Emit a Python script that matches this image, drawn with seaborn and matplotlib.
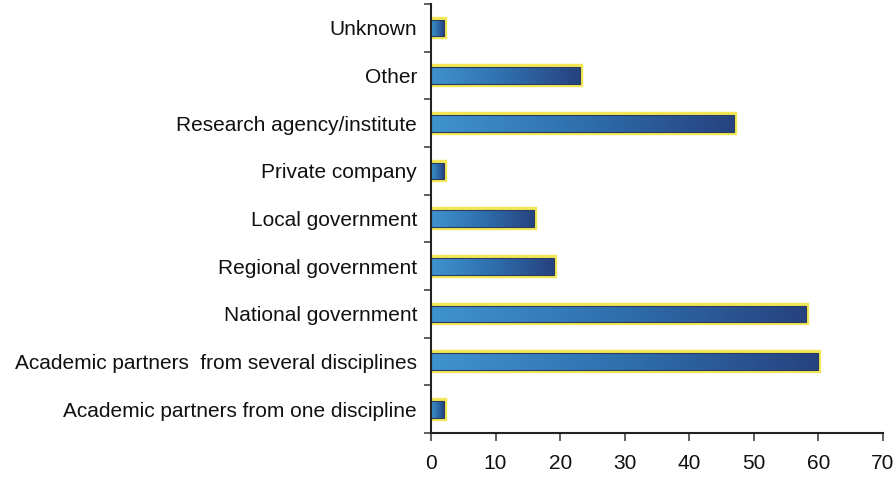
import matplotlib
matplotlib.use("Agg")
import matplotlib.pyplot as plt
import matplotlib.colors as mcolors
from matplotlib.patches import Rectangle
import numpy as np
import pandas as pd
import seaborn as sns

categories = [
    "Unknown",
    "Other",
    "Research agency/institute",
    "Private company",
    "Local government",
    "Regional government",
    "National government",
    "Academic partners  from several disciplines",
    "Academic partners from one discipline",
]
counts = [2, 23, 47, 2, 16, 19, 58, 60, 2]
x_ticks = [0, 10, 20, 30, 40, 50, 60, 70]

df = pd.DataFrame({"category": categories, "count": counts})

sns.set_theme(style="white")
plt.rcParams["font.family"] = ["Liberation Sans", "DejaVu Sans"]

fig = plt.figure(figsize=(8.96, 4.79), dpi=100)
ax = fig.add_axes([0.481, 0.096, 0.5045, 0.8956])

sns.barplot(data=df, y="category", x="count", orient="h", ax=ax,
            width=0.35, facecolor="none", edgecolor="none", linewidth=0,
            zorder=2)

# left-to-right blue gradient inside every bar, framed in yellow
grad_cmap = mcolors.LinearSegmentedColormap.from_list(
    "bar_grad", ["#3f93cf", "#2f6fae", "#26427f"])
grad = np.linspace(0, 1, 256).reshape(1, -1)
for patch in list(ax.patches):
    x0, y0 = patch.get_x(), patch.get_y()
    w, h = patch.get_width(), patch.get_height()
    ax.add_patch(Rectangle((x0, y0), w, h, facecolor="none",
                           edgecolor="#f3e758", linewidth=4.6,
                           joinstyle="miter", zorder=2.5))
    im = ax.imshow(grad, cmap=grad_cmap, aspect="auto",
                   extent=(x0, x0 + w, y0 + h, y0), zorder=3,
                   interpolation="bilinear")
    im.set_clip_path(patch)
    ax.add_patch(Rectangle((x0, y0), w, h, fill=False,
                           edgecolor="#2b3d5c", linewidth=0.8, zorder=4))

ax.set_xlim(0, 70)
ax.set_ylim(len(categories) - 0.5, -0.5)
ax.set_xticks(x_ticks)
ax.set_xticklabels([str(t) for t in x_ticks])
ax.set_yticks(np.arange(len(categories)))
ax.set_yticklabels(categories)
ax.set_yticks(np.arange(len(categories) + 1) - 0.5, minor=True)
ax.set_xlabel("")
ax.set_ylabel("")

for side in ["top", "right"]:
    ax.spines[side].set_visible(False)
for side in ["left", "bottom"]:
    ax.spines[side].set_color("#222222")
    ax.spines[side].set_linewidth(1.5)
    ax.spines[side].set_zorder(5)

ax.tick_params(axis="y", which="major", length=0, pad=10, labelsize=15,
               labelcolor="#111111")
ax.tick_params(axis="y", which="minor", length=5, width=1.2, color="#444444",
               direction="out", left=True)
ax.tick_params(axis="x", which="major", length=6, width=1.2, color="#444444",
               direction="out", bottom=True, pad=9, labelsize=15,
               labelcolor="#111111")

fig.savefig("out.png", dpi=100)
